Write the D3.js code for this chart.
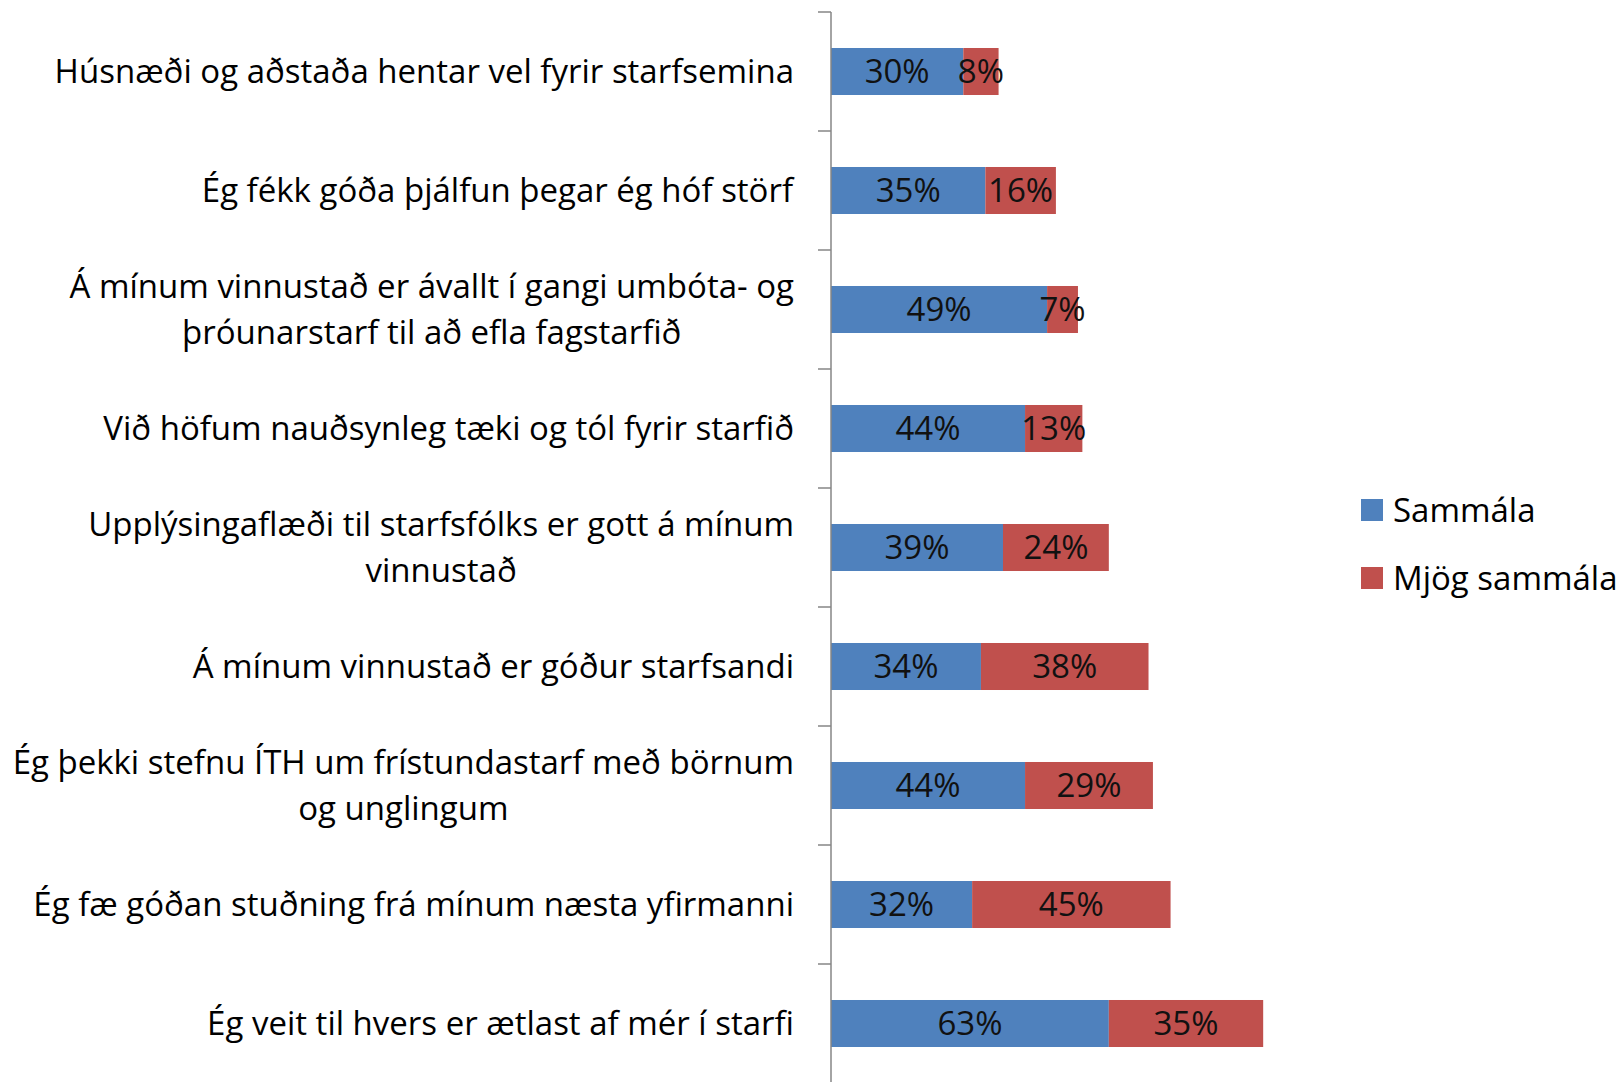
<!DOCTYPE html>
<html>
<head>
<meta charset="utf-8">
<script src="https://cdn.jsdelivr.net/npm/d3@7"></script>
<style>
  body { margin: 0; background: #fff; }
  svg text { font-family: "Open Sans", sans-serif; fill: #000; }
</style>
</head>
<body>
<div id="chart"></div>
<script>
// category labels, already broken into lines like the original
var categories = [
    ['Húsnæði og aðstaða hentar vel fyrir starfsemina'],
    ['Ég fékk góða þjálfun þegar ég hóf störf'],
    ['Á mínum vinnustað er ávallt í gangi umbóta- og', 'þróunarstarf til að efla fagstarfið'],
    ['Við höfum nauðsynleg tæki og tól fyrir starfið'],
    ['Upplýsingaflæði til starfsfólks er gott á mínum', 'vinnustað'],
    ['Á mínum vinnustað er góður starfsandi'],
    ['Ég þekki stefnu ÍTH um frístundastarf með börnum', 'og unglingum'],
    ['Ég fæ góðan stuðning frá mínum næsta yfirmanni'],
    ['Ég veit til hvers er ætlast af mér í starfi']
];
var sammala = [30, 35, 49, 44, 39, 34, 44, 32, 63];
var mjogSammala = [8, 16, 7, 13, 24, 38, 29, 45, 35];
var seriesNames = ['Sammála', 'Mjög sammála'];
var seriesColors = ['#4F81BD', '#C0504D'];

var width = 1623, height = 1082;
var axisX = 831, plotTop = 12, plotBottom = 1083;
var fontSize = 33;

var svg = d3.select('#chart').append('svg')
    .attr('width', width)
    .attr('height', height);

var ids = d3.range(categories.length);

var y = d3.scaleBand()
    .domain(ids)
    .range([plotTop, plotBottom])
    .paddingInner(0.605)
    .paddingOuter(0.3025);

var x = d3.scaleLinear()
    .domain([0, 100])
    .range([axisX, axisX + 441]);

var segs = [];
ids.forEach(function(i) {
    segs.push({s: 0, x0: 0, x1: sammala[i], v: sammala[i], i: i});
    segs.push({s: 1, x0: sammala[i], x1: sammala[i] + mjogSammala[i], v: mjogSammala[i], i: i});
});

// bars
svg.append('g').selectAll('rect')
    .data(segs)
    .enter().append('rect')
    .attr('x', function(d) { return x(d.x0); })
    .attr('y', function(d) { return y(d.i); })
    .attr('width', function(d) { return x(d.x1) - x(d.x0); })
    .attr('height', y.bandwidth())
    .style('fill', function(d) { return seriesColors[d.s]; });

// data labels
svg.append('g').selectAll('text')
    .data(segs)
    .enter().append('text')
    .attr('x', function(d) { return (x(d.x0) + x(d.x1)) / 2; })
    .attr('y', function(d) { return y(d.i) + y.bandwidth() / 2; })
    .attr('dy', '0.36em')
    .attr('text-anchor', 'middle')
    .style('font-size', fontSize + 'px')
    .style('fill', '#111')
    .text(function(d) { return d.v + '%'; });

// category axis
var step = y.step();
var axis = svg.append('g');
axis.append('line')
    .attr('x1', axisX).attr('x2', axisX)
    .attr('y1', plotTop).attr('y2', plotBottom)
    .style('stroke', '#868686').style('stroke-width', 1.5);
axis.selectAll('.tick')
    .data(d3.range(categories.length + 1))
    .enter().append('line')
    .attr('x1', axisX - 13).attr('x2', axisX)
    .attr('y1', function(k) { return plotTop + k * step; })
    .attr('y2', function(k) { return plotTop + k * step; })
    .style('stroke', '#868686').style('stroke-width', 1.5);

var labels = axis.selectAll('.cat')
    .data(ids)
    .enter().append('text')
    .attr('class', 'cat')
    .attr('text-anchor', 'middle')
    .style('font-size', fontSize + 'px');

labels.each(function(i) {
    var lines = categories[i];
    var cy = y(i) + y.bandwidth() / 2;
    var el = d3.select(this);
    lines.forEach(function(line, k) {
        el.append('tspan')
            .attr('x', 0)
            .attr('y', cy + (k - (lines.length - 1) / 2) * 46)
            .attr('dy', '0.36em')
            .text(line);
    });
    // right edge of the widest line sits next to the axis
    var w = this.getBBox().width;
    el.attr('transform', 'translate(' + (794 - w / 2) + ',0)');
});

// legend
var legend = svg.append('g')
    .selectAll('g')
    .data(seriesNames)
    .enter().append('g')
    .attr('transform', function(d, k) { return 'translate(1361,' + (499 + k * 68) + ')'; });
legend.append('rect')
    .attr('width', 22).attr('height', 22)
    .style('fill', function(d, k) { return seriesColors[k]; });
legend.append('text')
    .attr('x', 32).attr('y', 11).attr('dy', '0.36em')
    .style('font-size', fontSize + 'px')
    .text(function(d) { return d; });
</script>
</body>
</html>
